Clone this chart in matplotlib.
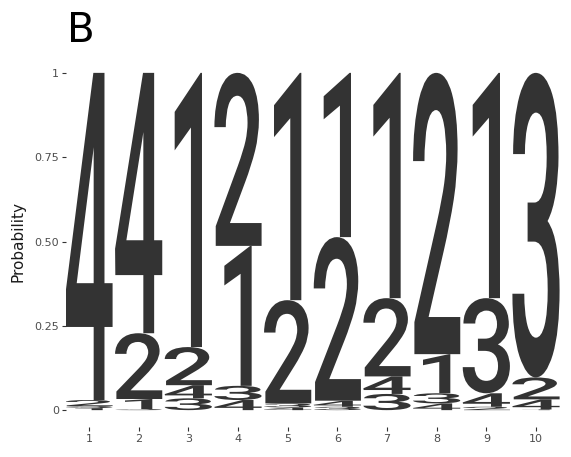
import matplotlib
matplotlib.use("Agg")
import matplotlib.pyplot as plt
from matplotlib.textpath import TextPath
from matplotlib.font_manager import FontProperties
from matplotlib.patches import PathPatch
from matplotlib.transforms import Affine2D

positions = [1, 2, 3, 4, 5, 6, 7, 8, 9, 10]
letters = ["1", "2", "3", "4"]
p1 = [0.006, 0.030, 0.813, 0.415, 0.674, 0.487, 0.668, 0.116, 0.668, 0.002]
p2 = [0.018, 0.195, 0.113, 0.513, 0.306, 0.485, 0.232, 0.834, 0.010, 0.065]
p3 = [0.006, 0.003, 0.035, 0.042, 0.012, 0.010, 0.048, 0.030, 0.282, 0.903]
p4 = [0.970, 0.772, 0.039, 0.030, 0.008, 0.018, 0.052, 0.020, 0.040, 0.030]
probs = {"1": p1, "2": p2, "3": p3, "4": p4}

yticks = [0, 0.25, 0.5, 0.75, 1]
yticklabels = ["0", "0.25", "0.50", "0.75", "1"]

W, H = 571, 457
fig = plt.figure(figsize=(W / 100, H / 100), dpi=100)
ax = fig.add_axes([66 / W, 30 / H, 500 / W, 371 / H])

fp = FontProperties(family="Roboto", weight="medium")
glyph_width = {"1": 0.55, "2": 0.95, "3": 0.95, "4": 0.95}


def draw_letter(ch, x, y0, h):
    tp = TextPath((0, 0), ch, size=1, prop=fp)
    ext = tp.get_extents()
    w = glyph_width[ch]
    tr = (Affine2D()
          .translate(-ext.x0, -ext.y0)
          .scale(w / ext.width, h / ext.height)
          .translate(x - w / 2, y0))
    patch = PathPatch(tr.transform_path(tp), facecolor="#333333",
                      edgecolor="none", lw=0)
    ax.add_patch(patch)


for i, x in enumerate(positions):
    col = sorted(letters, key=lambda c: probs[c][i])
    y = 0.0
    for ch in col:
        h = probs[ch][i]
        if h > 0:
            draw_letter(ch, x, y, h)
        y += h

ax.set_xlim(0.537, 10.604)
ax.set_ylim(-0.05, 1.05)
ax.set_xticks(positions)
ax.set_xticklabels([str(p) for p in positions])
ax.set_yticks(yticks)
ax.set_yticklabels(yticklabels)
for s in ax.spines.values():
    s.set_visible(False)
ax.tick_params(length=3, width=0.8, color="#333333", labelcolor="#4D4D4D",
               labelsize=8, pad=2)
ax.set_ylabel("Probability", fontsize=11, color="#1A1A1A", labelpad=6)

fig.text(67 / W, 1 - 42 / H, "B", fontsize=29, va="baseline", ha="left")

fig.savefig("out.png", dpi=100)
